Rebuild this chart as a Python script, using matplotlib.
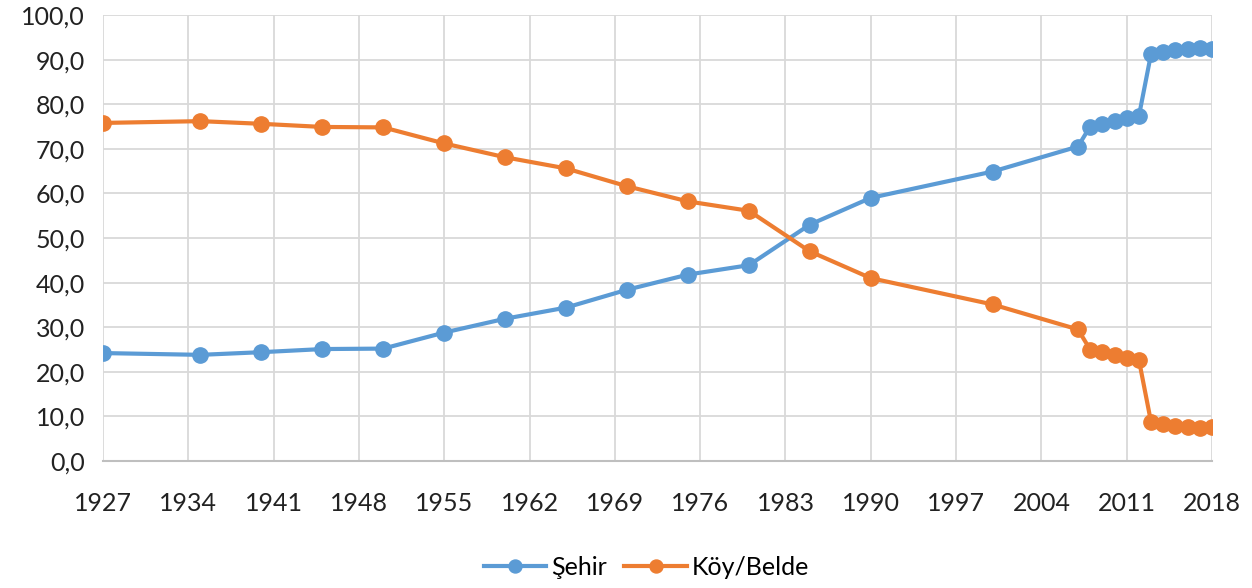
import numpy as np
import matplotlib.pyplot as plt

years = [1927, 1935, 1940, 1945, 1950, 1955, 1960, 1965, 1970, 1975, 1980,
         1985, 1990, 2000, 2007, 2008, 2009, 2010, 2011, 2012, 2013, 2014,
         2015, 2016, 2017, 2018]
sehir = [24.2, 23.8, 24.4, 25.1, 25.2, 28.8, 31.9, 34.4, 38.4, 41.8, 43.9,
         53.0, 59.0, 64.9, 70.5, 75.0, 75.5, 76.3, 76.8, 77.3, 91.3, 91.8,
         92.1, 92.3, 92.5, 92.3]
koy = [75.8, 76.2, 75.6, 74.9, 74.8, 71.2, 68.1, 65.6, 61.6, 58.2, 56.1,
       47.0, 41.0, 35.1, 29.5, 25.0, 24.5, 23.7, 23.2, 22.7, 8.7, 8.2,
       7.9, 7.7, 7.5, 7.7]
xticks = list(range(1927, 2019, 7))
yticks = list(range(0, 101, 10))

plt.rcParams['font.family'] = ['Lato', 'DejaVu Sans']

fig = plt.figure(figsize=(12.52, 5.88), dpi=100)
ax = fig.add_axes([103 / 1252, 1 - 461 / 588, (1212 - 103) / 1252, (461 - 15) / 588])

blue = '#5B9BD5'
orange = '#ED7D31'
ax.plot(years, sehir, color=blue, lw=3, marker='o', ms=11, label='Şehir', zorder=3)
ax.plot(years, koy, color=orange, lw=3, marker='o', ms=11, label='Köy/Belde', zorder=3)

ax.set_xlim(1927, 2018)
ax.set_ylim(0, 100)
ax.set_xticks(xticks)
ax.set_yticks(yticks)
ax.set_yticklabels([f'{v:.1f}'.replace('.', ',') for v in yticks])
ax.grid(True, color='#D9D9D9', lw=1.3)
ax.set_axisbelow(True)
for s in ['top', 'right', 'left']:
    ax.spines[s].set_visible(False)
ax.spines['bottom'].set_color('#BFBFBF')
ax.spines['bottom'].set_linewidth(1.5)
ax.tick_params(length=0, labelsize=18, colors='#222222')
ax.tick_params(axis='y', pad=13)
ax.tick_params(axis='x', pad=22)

ax.legend(loc='center', bbox_to_anchor=(0.49, -0.238), ncol=2, frameon=False,
          fontsize=18, handlelength=2.5, columnspacing=0.7, handletextpad=0.2,
          markerscale=0.85)

fig.savefig('out.png', dpi=100)
